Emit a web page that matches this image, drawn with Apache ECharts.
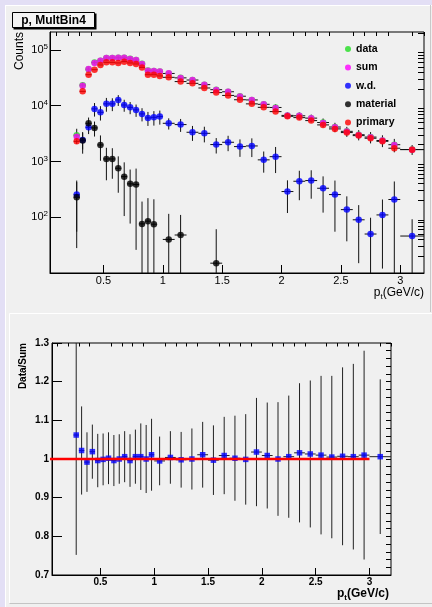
<!DOCTYPE html>
<html>
<head>
<meta charset="utf-8">
<script src="https://cdn.jsdelivr.net/npm/echarts@6.0.0/dist/echarts.min.js"></script>
<style>
html, body { margin: 0; padding: 0; background: #e3dff5; }
#chart { width: 432px; height: 607px; }
</style>
</head>
<body>
<div id="chart"></div>
<script>
// bin centres and half widths (pt, GeV/c)
const ptBins = [0.275, 0.325, 0.375, 0.425, 0.475, 0.525, 0.575, 0.625, 0.675, 0.725, 0.775, 0.825, 0.875, 0.925, 0.975,
  1.05, 1.15, 1.25, 1.35, 1.45, 1.55, 1.65, 1.75, 1.85, 1.95, 2.05, 2.15, 2.25, 2.35, 2.45, 2.55, 2.65, 2.75, 2.85, 2.95, 3.1];
const ptHalf = [0.025, 0.025, 0.025, 0.025, 0.025, 0.025, 0.025, 0.025, 0.025, 0.025, 0.025, 0.025, 0.025, 0.025, 0.025,
  0.05, 0.05, 0.05, 0.05, 0.05, 0.05, 0.05, 0.05, 0.05, 0.05, 0.05, 0.05, 0.05, 0.05, 0.05, 0.05, 0.05, 0.05, 0.05, 0.05, 0.1];

// counts per bin
const dataCounts = [2960, 23400, 45200, 59600, 64000, 71800, 72000, 72500, 72800, 69400, 65800, 56400, 42800, 42000, 41300,
  37900, 31600, 28900, 23900, 19400, 17800, 14800, 12700, 10600, 9300, 6710, 6600, 5990, 5000, 4150, 3470, 3020, 2740, 2380, 2000, 1640];
const dataErr = [900, 2700, 3500, 4200, 4400, 4800, 4800, 4800, 4700, 4600, 4500, 3900, 3700, 3700, 3800,
  2400, 2100, 2100, 1900, 1600, 1600, 1500, 1400, 1200, 1300, 920, 970, 950, 900, 790, 710, 630, 630, 570, 540, 330];
const sumCounts = [2790, 22900, 45600, 58500, 64300, 71900, 71900, 72800, 72800, 69000, 66100, 56100, 42500, 42000, 40900,
  38100, 31500, 29000, 23900, 19200, 17900, 14700, 12700, 10600, 9140, 6650, 6600, 5950, 4920, 4100, 3440, 3000, 2720, 2370, 1980, 1630];
const wdCounts = [255, 2440, 4100, 8780, 7620, 10800, 10800, 12700, 10300, 9350, 8410, 7130, 6040, 6200, 6380,
  4840, 4590, 3340, 3200, 2010, 2210, 1850, 1900, 1070, 1220, 289, 442, 455, 331, 255, 137, 90, 50, 110, 208, 46];
const wdErr = [200, 800, 1000, 2400, 2200, 3000, 2800, 2800, 2500, 2300, 2100, 1900, 1700, 1800, 1800,
  1100, 1200, 1000, 1000, 620, 680, 640, 700, 440, 600, 170, 240, 240, 210, 200, 100, 75, 48, 98, 230, 46];
const materialCounts = [228, 2380, 4840, 4000, 1980, 1110, 1110, 755, 535, 397, 386, 76, 85, 75, null,
  40, 48, null, null, 15, null, null, null, null, null, null, null, null, null, null, null, null, null, null, null, null];
const materialErr = [200, 1000, 1300, 1200, 950, 650, 620, 480, 430, 320, 360, 115, 135, 135, null,
  75, 62, null, null, 46, null, null, null, null, null, null, null, null, null, null, null, null, null, null, null, null];
const primaryCounts = [2300, 18100, 36000, 44300, 53800, 60000, 60000, 58500, 61700, 58500, 56100, 48700, 36000, 36000, 34200,
  32300, 27100, 25200, 20800, 17200, 15300, 12800, 10800, 9350, 7840, 6460, 6120, 5410, 4530, 3840, 3300, 2910, 2610, 2300, 1730, 1630];

// data / sum ratio
const ratio = [1.062, 1.022, 0.992, 1.019, 0.996, 0.999, 1.002, 0.996, 1.0, 1.006, 0.996, 1.006, 1.006, 1.0, 1.011,
  0.995, 1.004, 0.998, 1.0, 1.011, 0.997, 1.009, 1.002, 0.999, 1.018, 1.009, 1.0, 1.006, 1.016, 1.013, 1.01, 1.005, 1.007, 1.006, 1.01, 1.006];
const ratioErr = [0.31, 0.114, 0.077, 0.07, 0.069, 0.067, 0.067, 0.066, 0.064, 0.066, 0.068, 0.07, 0.086, 0.088, 0.093,
  0.063, 0.068, 0.072, 0.079, 0.085, 0.09, 0.1, 0.11, 0.117, 0.14, 0.137, 0.147, 0.158, 0.18, 0.19, 0.205, 0.21, 0.23, 0.24, 0.27, 0.2];
const fitLine = [[0, 1], [3, 1]];

// axis ticks
const xMajor = [0.5, 1, 1.5, 2, 2.5, 3];
const xMinor = [0.1, 0.2, 0.3, 0.4, 0.6, 0.7, 0.8, 0.9, 1.1, 1.2, 1.3, 1.4, 1.6, 1.7, 1.8, 1.9, 2.1, 2.2, 2.3, 2.4, 2.6, 2.7, 2.8, 2.9, 3.1, 3.2];
const logMajor = [100, 1000, 10000, 100000];
const logMinor = [20, 30, 40, 50, 60, 70, 80, 90, 200, 300, 400, 500, 600, 700, 800, 900,
  2000, 3000, 4000, 5000, 6000, 7000, 8000, 9000, 20000, 30000, 40000, 50000, 60000, 70000, 80000, 90000, 200000];
const ratioMajor = [0.7, 0.8, 0.9, 1, 1.1, 1.2, 1.3];
const ratioMinor = [];
for (let i = 0; i <= 30; i++) ratioMinor.push(Math.round((0.7 + i * 0.02) * 100) / 100);

const FONT = 'Liberation Sans, Arial, Helvetica, sans-serif';
const chart = echarts.init(document.getElementById('chart'), null, { renderer: 'canvas' });

function pts(vals) {
  const out = [];
  ptBins.forEach((x, i) => { if (vals[i] != null) out.push([x, vals[i]]); });
  return out;
}
function errPts(vals, errs) {
  const out = [];
  ptBins.forEach((x, i) => { if (vals[i] != null) out.push([x, vals[i], ptHalf[i], errs ? errs[i] : 0]); });
  return out;
}

function errorBars(color, isLog) {
  return function (params, api) {
    const x = api.value(0), y = api.value(1), xe = api.value(2), ye = api.value(3);
    let low = y - ye;
    if (isLog && low <= 0) low = 0.01;
    const c = api.coord([x, y]);
    const l = api.coord([x - xe, y]);
    const r = api.coord([x + xe, y]);
    const t = api.coord([x, y + ye]);
    const b = api.coord([x, low]);
    const st = { stroke: color, lineWidth: 1 };
    return {
      type: 'group',
      children: [
        { type: 'line', shape: { x1: l[0], y1: c[1], x2: r[0], y2: c[1] }, style: st },
        { type: 'line', shape: { x1: c[0], y1: t[1], x2: c[0], y2: b[1] }, style: st }
      ]
    };
  };
}

function errSeries(name, data, color, xi, yi, isLog) {
  return {
    name: name, type: 'custom', xAxisIndex: xi, yAxisIndex: yi,
    renderItem: errorBars(color, isLog), data: data, clip: true, silent: true,
    encode: { x: 0, y: 1 }
  };
}

function majorX(grid, len, bold, size) {
  return {
    type: 'value', gridIndex: grid, min: 0.05, max: 3.2,
    axisLine: { show: true, lineStyle: { color: '#000', width: 1 } },
    axisTick: { show: true, inside: true, length: len, customValues: xMajor, lineStyle: { color: '#000' } },
    axisLabel: { customValues: xMajor, color: '#000', fontFamily: FONT, fontSize: size,
      fontWeight: bold ? 'bold' : 'normal', margin: 2 },
    splitLine: { show: false }
  };
}
function minorX(grid, len) {
  return {
    type: 'value', gridIndex: grid, min: 0.05, max: 3.2,
    axisLine: { show: false },
    axisTick: { show: true, inside: true, length: len, customValues: xMinor, lineStyle: { color: '#000' } },
    axisLabel: { show: false },
    splitLine: { show: false }
  };
}

const superRich = {
  b: { fontSize: 11, lineHeight: 14, fontFamily: FONT, color: '#000' },
  s: { fontSize: 8, lineHeight: 8, verticalAlign: 'top', fontFamily: FONT, color: '#000' }
};

const option = {
  animation: false,
  backgroundColor: '#e3dff5',
  graphic: [
    { type: 'rect', z: -10, shape: { x: 5, y: 5, width: 427, height: 602 }, style: { fill: '#f0f0f0' } },
    { type: 'line', z: -9, shape: { x1: 5.5, y1: 5, x2: 5.5, y2: 607 }, style: { stroke: '#ffffff', lineWidth: 1 } },
    { type: 'line', z: -9, shape: { x1: 5, y1: 5.5, x2: 432, y2: 5.5 }, style: { stroke: '#ffffff', lineWidth: 1 } },
    { type: 'line', z: -9, shape: { x1: 430.5, y1: 5, x2: 430.5, y2: 312 }, style: { stroke: '#c8c8c8', lineWidth: 1 } },
    { type: 'line', z: -9, shape: { x1: 9.5, y1: 313.5, x2: 432, y2: 313.5 }, style: { stroke: '#ffffff', lineWidth: 1 } },
    { type: 'line', z: -9, shape: { x1: 9.5, y1: 313.5, x2: 9.5, y2: 603 }, style: { stroke: '#ffffff', lineWidth: 1 } },
    { type: 'line', z: -9, shape: { x1: 9.5, y1: 603.5, x2: 432, y2: 603.5 }, style: { stroke: '#c4c4c4', lineWidth: 1 } },
    // title box
    { type: 'rect', z: 20, shape: { x: 13.5, y: 13.5, width: 83, height: 16 }, style: { fill: '#000' } },
    { type: 'rect', z: 21, shape: { x: 12.5, y: 12.5, width: 82, height: 15 }, style: { fill: '#f4f4f4', stroke: '#000', lineWidth: 1 } },
    { type: 'text', z: 22, x: 53.5, y: 20.5, style: { text: 'p, MultBin4', font: 'bold 12px ' + FONT, fill: '#000', align: 'center', verticalAlign: 'middle' } },
    // axis titles
    { type: 'text', z: 22, x: 20, y: 32, rotation: Math.PI / 2,
      style: { text: 'Counts', font: '12px ' + FONT, fill: '#000', align: 'right', verticalAlign: 'middle' } },
    { type: 'text', z: 22, x: 424, y: 293,
      style: { text: '{a|p}{t|t}{a|(GeV/c)}', align: 'right', verticalAlign: 'middle',
        rich: { a: { fontSize: 12, lineHeight: 16, fontFamily: FONT, color: '#000' },
                t: { fontSize: 8, lineHeight: 8, verticalAlign: 'bottom', fontFamily: FONT, color: '#000' } } } },
    { type: 'text', z: 22, x: 23, y: 343, rotation: Math.PI / 2,
      style: { text: 'Data/Sum', font: 'bold 10px ' + FONT, fill: '#000', align: 'right', verticalAlign: 'middle' } },
    { type: 'text', z: 22, x: 389, y: 594,
      style: { text: '{a|p}{t|t}{a|(GeV/c)}', align: 'right', verticalAlign: 'middle',
        rich: { a: { fontSize: 12, fontWeight: 'bold', lineHeight: 16, fontFamily: FONT, color: '#000' },
                t: { fontSize: 8, fontWeight: 'bold', lineHeight: 8, verticalAlign: 'bottom', fontFamily: FONT, color: '#000' } } } }
  ],
  legend: {
    data: ['data', 'sum', 'w.d.', 'material', 'primary'],
    orient: 'vertical', left: 340, top: 38,
    icon: 'circle', itemWidth: 6, itemHeight: 6, itemGap: 6.4,
    selectedMode: false,
    textStyle: { fontFamily: FONT, fontSize: 10.5, fontWeight: 'bold', color: '#000', lineHeight: 12 }
  },
  grid: [
    { left: 50, top: 32, width: 374, height: 241, show: true, borderColor: '#000', borderWidth: 1, backgroundColor: 'transparent' },
    { left: 52, top: 343, width: 339, height: 232, show: true, borderColor: '#000', borderWidth: 1, backgroundColor: 'transparent' }
  ],
  xAxis: [
    majorX(0, 8, false, 11),
    minorX(0, 4),
    majorX(1, 7, true, 10),
    minorX(1, 3.5)
  ],
  yAxis: [
    {
      type: 'log', gridIndex: 0, min: 10, max: 210000, logBase: 10,
      axisLine: { show: true, lineStyle: { color: '#000' } },
      axisTick: { show: true, inside: true, length: 11, customValues: logMajor, lineStyle: { color: '#000' } },
      axisLabel: {
        customValues: logMajor, margin: 2,
        formatter: v => '{b|10}{s|' + Math.round(Math.log10(v)) + '}',
        rich: superRich
      },
      splitLine: { show: false }, minorTick: { show: false }
    },
    {
      type: 'log', gridIndex: 0, min: 10, max: 210000, logBase: 10,
      axisLine: { show: false },
      axisTick: { show: true, inside: true, length: 6, customValues: logMinor, lineStyle: { color: '#000' } },
      axisLabel: { show: false }, splitLine: { show: false }
    },
    {
      type: 'value', gridIndex: 1, min: 0.7, max: 1.3,
      axisLine: { show: true, lineStyle: { color: '#000' } },
      axisTick: { show: true, inside: true, length: 10, customValues: ratioMajor, lineStyle: { color: '#000' } },
      axisLabel: { customValues: ratioMajor, color: '#000', fontFamily: FONT, fontSize: 10, fontWeight: 'bold', margin: 3 },
      splitLine: { show: false }
    },
    {
      type: 'value', gridIndex: 1, min: 0.7, max: 1.3,
      axisLine: { show: false },
      axisTick: { show: true, inside: true, length: 5, customValues: ratioMinor, lineStyle: { color: '#000' } },
      axisLabel: { show: false }, splitLine: { show: false }
    }
  ],
  series: [
    errSeries('e-wd', errPts(wdCounts, wdErr), '#111', 0, 0, true),
    errSeries('e-mat', errPts(materialCounts, materialErr), '#111', 0, 0, true),
    errSeries('e-data', errPts(dataCounts, dataErr), '#111', 0, 0, true),
    errSeries('e-prim', errPts(primaryCounts, null), '#111', 0, 0, true),
    { name: 'data', type: 'scatter', xAxisIndex: 0, yAxisIndex: 0, symbol: 'circle', symbolSize: 6.5,
      itemStyle: { color: '#22dd22' }, data: pts(dataCounts) },
    { name: 'sum', type: 'scatter', xAxisIndex: 0, yAxisIndex: 0, symbol: 'circle', symbolSize: 6.5,
      itemStyle: { color: '#ff00ff' }, data: pts(sumCounts) },
    { name: 'w.d.', type: 'scatter', xAxisIndex: 0, yAxisIndex: 0, symbol: 'circle', symbolSize: 6.5,
      itemStyle: { color: '#0000ff' }, data: pts(wdCounts) },
    { name: 'material', type: 'scatter', xAxisIndex: 0, yAxisIndex: 0, symbol: 'circle', symbolSize: 6.5,
      itemStyle: { color: '#000000' }, data: pts(materialCounts) },
    { name: 'primary', type: 'scatter', xAxisIndex: 0, yAxisIndex: 0, symbol: 'circle', symbolSize: 6.5,
      itemStyle: { color: '#ff0000' }, data: pts(primaryCounts) },
    // ratio pad
    errSeries('e-ratio', errPts(ratio, ratioErr), '#222', 2, 2, false),
    { name: 'fit', type: 'line', xAxisIndex: 2, yAxisIndex: 2, data: fitLine, showSymbol: false, symbol: 'none',
      clip: false, lineStyle: { color: '#ff0000', width: 2.5 } },
    { name: 'ratio', type: 'scatter', xAxisIndex: 2, yAxisIndex: 2, symbol: 'rect', symbolSize: 5.5,
      itemStyle: { color: '#0000ff' }, data: pts(ratio) }
  ]
};

chart.setOption(option);
</script>
</body>
</html>
